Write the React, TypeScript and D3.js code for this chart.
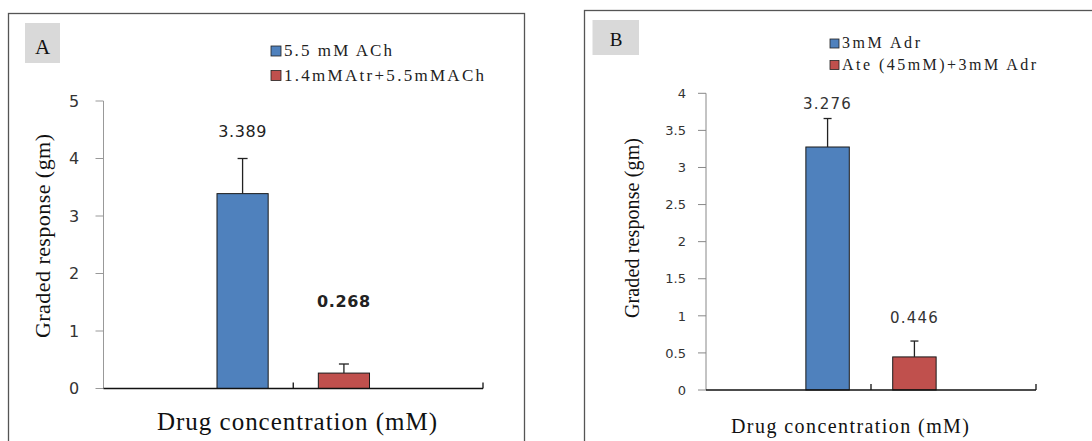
import React from "react";
import * as d3 from "d3";

// ---------- data ----------
const panelALetters = "A";
const panelASeries = ["5.5 mM ACh", "1.4mMAtr+5.5mMACh"];
const panelAValues = [3.389, 0.268];
const panelAErrors = [0.611, 0.158];
const panelATicks = [0, 1, 2, 3, 4, 5];

const panelBLetters = "B";
const panelBSeries = ["3mM Adr", "Ate (45mM)+3mM Adr"];
const panelBValues = [3.276, 0.446];
const panelBErrors = [0.384, 0.214];
const panelBTicks = [0, 0.5, 1, 1.5, 2, 2.5, 3, 3.5, 4];

const xTitle = "Drug concentration (mM)";
const yTitle = "Graded response (gm)";
const colors = ["#4F81BD", "#C0504D"];

const SERIF = "Liberation Serif, Times New Roman, serif";
const SANS = "DejaVu Sans, Verdana, sans-serif";

type PanelCfg = {
  letter: string;
  series: string[];
  values: number[];
  errors: number[];
  ticks: number[];
  yMax: number;
  frame: { x: number; y: number; w: number; h: number };
  box: { x: number; y: number; w: number; h: number; fs: number; tx: number; ty: number };
  x0: number; x1: number; y0: number; y1: number;
  padInner: number; padOuter: number;
  legend: { x: number; y: number; dy: number; fs: number; sq: number; len: number[] };
  labelOffsets: number[];
  labelFont: { family: string; size: number; weights: number[]; spacing: number; color: string };
  tickFont: { family: string; size: number; anchor: string; x: number; color: string };
  yAxisColor: string;
  capW: number;
  xt: { x: number; y: number; fs: number; len: number; weight: number };
  yt: { x: number; y: number; fs: number; len: number; weight: number };
};

function Panel({ c }: { c: PanelCfg }) {
  const y = d3.scaleLinear().domain([0, c.yMax]).range([c.y0, c.y1]);
  const x = d3
    .scaleBand<string>()
    .domain(c.series)
    .range([c.x0, c.x1])
    .paddingInner(c.padInner)
    .paddingOuter(c.padOuter);
  const bw = x.bandwidth();
  const mid = (c.x0 + c.x1) / 2;
  const serif = { fontFamily: SERIF };
  return (
    <g>
      <rect x={c.frame.x} y={c.frame.y} width={c.frame.w} height={c.frame.h} fill="#fff" stroke="#555" strokeWidth={1.3} />
      <rect x={c.box.x} y={c.box.y} width={c.box.w} height={c.box.h} fill="#d9d9d9" />
      <text x={c.box.tx} y={c.box.ty} style={serif} fontSize={c.box.fs} fill="#111" textAnchor="middle">{c.letter}</text>
      {/* legend */}
      {c.series.map((s, i) => (
        <g key={s}>
          <rect
            x={c.legend.x}
            y={c.legend.y + i * c.legend.dy - c.legend.sq}
            width={c.legend.sq}
            height={c.legend.sq}
            fill={colors[i]}
            stroke="#222"
            strokeWidth={0.8}
          />
          <text
            x={c.legend.x + c.legend.sq + 3}
            y={c.legend.y + i * c.legend.dy}
            style={serif}
            fontSize={c.legend.fs}
            textLength={c.legend.len[i]}
            lengthAdjust="spacing"
            fill="#222"
          >
            {s}
          </text>
        </g>
      ))}
      {/* y axis */}
      <line x1={c.x0} x2={c.x0} y1={c.y0} y2={c.y1} stroke={c.yAxisColor} strokeWidth={1} />
      {c.ticks.map((t) => (
        <g key={t}>
          <line x1={c.x0 - 8} x2={c.x0} y1={y(t)} y2={y(t)} stroke={c.yAxisColor} strokeWidth={1} />
          <text
            x={c.tickFont.x}
            y={y(t)}
            dy="0.36em"
            textAnchor={c.tickFont.anchor as any}
            style={{ fontFamily: c.tickFont.family }}
            fontSize={c.tickFont.size}
            fill={c.tickFont.color}
          >
            {String(t)}
          </text>
        </g>
      ))}
      {/* bars */}
      {c.series.map((s, i) => {
        const bx = x(s)!;
        const top = y(c.values[i]);
        const et = y(c.values[i] + c.errors[i]);
        const cx = bx + bw / 2;
        return (
          <g key={s}>
            <rect x={bx} y={top} width={bw} height={c.y0 - top} fill={colors[i]} stroke="#1a1a1a" strokeWidth={1} />
            <line x1={cx} x2={cx} y1={top} y2={et} stroke="#222" strokeWidth={1.3} />
            <line x1={cx - c.capW / 2} x2={cx + c.capW / 2} y1={et} y2={et} stroke="#222" strokeWidth={1.3} />
            <text
              x={cx}
              y={top - c.labelOffsets[i]}
              textAnchor="middle"
              style={{ fontFamily: c.labelFont.family }}
              fontSize={c.labelFont.size}
              fontWeight={c.labelFont.weights[i]}
              letterSpacing={c.labelFont.spacing}
              fill={c.labelFont.color}
            >
              {c.values[i].toFixed(3)}
            </text>
          </g>
        );
      })}
      {/* x axis */}
      <line x1={c.x0} x2={c.x1} y1={c.y0} y2={c.y0} stroke="#111" strokeWidth={1.5} />
      <line x1={mid} x2={mid} y1={c.y0} y2={c.y0 - 6} stroke="#111" strokeWidth={1.3} />
      <line x1={c.x1} x2={c.x1} y1={c.y0} y2={c.y0 - 6} stroke="#111" strokeWidth={1.3} />
      {/* titles */}
      <text
        x={c.xt.x}
        y={c.xt.y}
        textAnchor="middle"
        style={serif}
        fontSize={c.xt.fs}
        fontWeight={c.xt.weight}
        textLength={c.xt.len}
        lengthAdjust="spacing"
        fill="#111"
      >
        {xTitle}
      </text>
      <text
        transform={`translate(${c.yt.x},${c.yt.y}) rotate(-90)`}
        textAnchor="middle"
        style={serif}
        fontSize={c.yt.fs}
        fontWeight={c.yt.weight}
        textLength={c.yt.len}
        lengthAdjust="spacing"
        fill="#111"
      >
        {yTitle}
      </text>
    </g>
  );
}

const cfgA: PanelCfg = {
  letter: panelALetters,
  series: panelASeries,
  values: panelAValues,
  errors: panelAErrors,
  ticks: panelATicks,
  yMax: 5,
  frame: { x: 8.5, y: 13.5, w: 516, h: 440 },
  box: { x: 25, y: 23, w: 35, h: 40, fs: 21, tx: 42.5, ty: 54 },
  x0: 103.5, x1: 483, y0: 388.5, y1: 101,
  padInner: 0.495, padOuter: 1.12,
  legend: { x: 271, y: 56, dy: 24.5, fs: 17, sq: 10, len: [108, 200] },
  labelOffsets: [57, 66],
  labelFont: { family: SANS, size: 16, weights: [400, 700], spacing: 0.6, color: "#222" },
  tickFont: { family: SANS, size: 16, anchor: "middle", x: 74, color: "#333" },
  yAxisColor: "#999",
  capW: 10,
  xt: { x: 297, y: 430, fs: 25, len: 280, weight: 400 },
  yt: { x: 50, y: 236, fs: 22, len: 204, weight: 400 },
};

const cfgB: PanelCfg = {
  letter: panelBLetters,
  series: panelBSeries,
  values: panelBValues,
  errors: panelBErrors,
  ticks: panelBTicks,
  yMax: 4,
  frame: { x: 584.5, y: 10.5, w: 520, h: 440 },
  box: { x: 592.5, y: 20, w: 46.5, h: 35, fs: 19, tx: 616, ty: 46 },
  x0: 706, x1: 1036, y0: 390, y1: 93.3,
  padInner: 0.5, padOuter: 1.15,
  legend: { x: 830, y: 48, dy: 21.5, fs: 16, sq: 9, len: [78, 194] },
  labelOffsets: [38, 34],
  labelFont: { family: SANS, size: 15, weights: [400, 400], spacing: 1.2, color: "#333" },
  tickFont: { family: SANS, size: 13, anchor: "end", x: 686, color: "#333" },
  yAxisColor: "#888",
  capW: 8,
  xt: { x: 850, y: 433, fs: 20, len: 238, weight: 400 },
  yt: { x: 639, y: 228, fs: 20, len: 180, weight: 400 },
};

export default function App() {
  return (
    <svg width={1092} height={441} style={{ position: "absolute", left: 0, top: 0, display: "block" }}>
      <rect width={1092} height={441} fill="#fff" />
      <Panel c={cfgA} />
      <Panel c={cfgB} />
    </svg>
  );
}
